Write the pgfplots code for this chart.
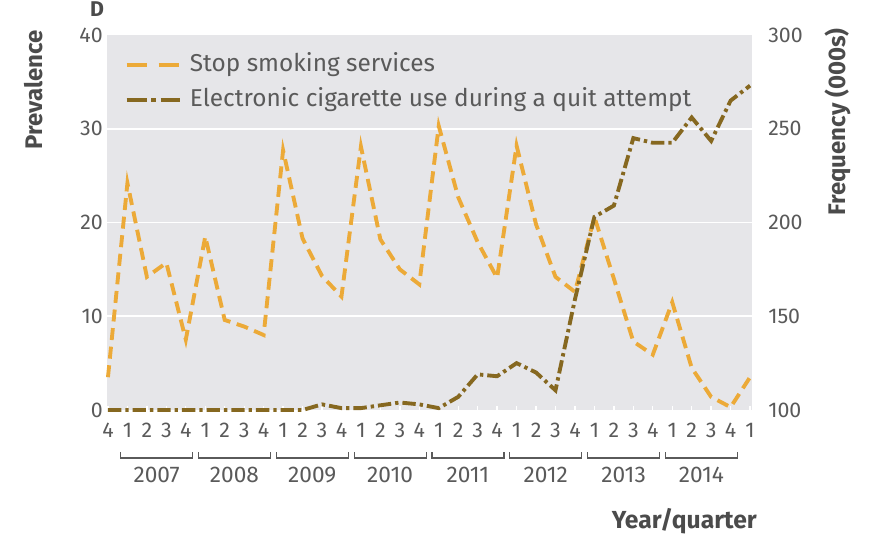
\documentclass[border=0pt]{standalone}
\usepackage{fontspec}
\setmainfont{Fira Sans}
\usepackage{pgfplots}
\usepackage{pgfplotstable}
\pgfplotsset{compat=1.18}

\definecolor{stopc}{RGB}{236,170,56}
\definecolor{ecigc}{RGB}{134,104,32}
\definecolor{bgc}{RGB}{230,230,233}
\definecolor{txtc}{RGB}{90,90,90}
\definecolor{lblc}{RGB}{75,75,75}

% Stop smoking services, frequency (000s), quarters 2006 Q4 ... 2015 Q1
\pgfplotstableread{
x stop
0 117.5
1 221
2 171
3 178.5
4 137.5
5 192.5
6 148
7 144.5
8 140
9 238.5
10 191.5
11 171.5
12 160.5
13 240.5
14 191
15 175
16 167
17 251.5
18 213.5
19 189.5
20 170.5
21 241
22 199
23 171
24 163
25 203
26 170
27 136.5
28 129.5
29 157.5
30 122.5
31 107
32 101.5
33 117.5
}\stoptable

% Electronic cigarette use during a quit attempt, prevalence (%)
\pgfplotstableread{
x ecig
0 0
1 0
2 0
3 0
4 0
5 0
6 0
7 0
8 0
9 0
10 0
11 0.6
12 0.2
13 0.2
14 0.5
15 0.8
16 0.6
17 0.2
18 1.4
19 3.8
20 3.6
21 5.0
22 4.0
23 2.1
24 11.8
25 20.6
26 21.8
27 29.0
28 28.5
29 28.5
30 31.2
31 28.7
32 33.0
33 34.6
}\ecigtable

\tikzset{
  stopstyle/.style={color=stopc, line width=2.9pt, dash pattern=on 9pt off 5pt},
  ecigstyle/.style={color=ecigc, line width=2.9pt, dash pattern=on 10pt off 3pt on 2.5pt off 3pt},
}

\begin{document}
\begin{tikzpicture}
% right axis: frequency
\begin{axis}[
  name=ax,
  scale only axis, width=483.75pt, height=281.25pt,
  xmin=-0.05, xmax=33.1, ymin=100, ymax=300,
  axis background/.style={fill=bgc},
  axis x line*=bottom, axis y line*=right,
  axis line style={draw=none},
  ytick={100,150,...,300},
  extra y ticks={150,200,250},
  extra y tick labels={},
  extra y tick style={ymajorgrids=true, major tick length=0pt},
  grid style={white, line width=1.3pt},
  xtick={0,...,33},
  xticklabels={\mbox{4},\mbox{1},\mbox{2},\mbox{3},\mbox{4},\mbox{1},\mbox{2},\mbox{3},\mbox{4},\mbox{1},\mbox{2},\mbox{3},\mbox{4},\mbox{1},\mbox{2},\mbox{3},\mbox{4},\mbox{1},\mbox{2},\mbox{3},\mbox{4},\mbox{1},\mbox{2},\mbox{3},\mbox{4},\mbox{1},\mbox{2},\mbox{3},\mbox{4},\mbox{1},\mbox{2},\mbox{3},\mbox{4},\mbox{1}},
  tick align=inside,
  x tick style={white, line width=1pt},
  major tick length=3pt,
  y tick style={draw=none},
  /pgf/number format/assume math mode=true,
  tick label style={font=\fontsize{16}{16}\selectfont, text=txtc},
  xticklabel style={anchor=center, inner sep=0pt, yshift=-15pt},
  yticklabel style={anchor=west, inner sep=0pt, xshift=12pt},
  clip=false,
]
\addplot[stopstyle] table[x=x, y=stop] {\stoptable};
\end{axis}
% left axis: prevalence
\begin{axis}[
  scale only axis, width=483.75pt, height=281.25pt,
  xmin=-0.05, xmax=33.1, ymin=0, ymax=40,
  axis y line*=left, hide x axis,
  axis line style={draw=none},
  ytick={0,10,...,40},
  y tick style={draw=none},
  /pgf/number format/assume math mode=true,
  tick label style={font=\fontsize{16}{16}\selectfont, text=txtc},
  yticklabel style={anchor=east, inner sep=0pt, xshift=-3pt},
  clip=false,
  legend style={at={(0.027,0.952)}, anchor=north west, draw=none, fill=none,
    font=\fontsize{18.3}{18.3}\selectfont, text=txtc, inner sep=0pt,
    row sep=8.25pt, column sep=6pt,
    nodes={inner sep=0pt, text height=14pt, text depth=4pt}},
  legend cell align=left,
  legend image code/.code={\draw[#1] (0pt,0pt) -- (40pt,0pt);},
]
\addlegendimage{stopstyle, dash pattern=on 15pt off 9pt}
\addlegendentry{Stop smoking services}
\addlegendimage{ecigstyle, dash pattern=on 15pt off 3.5pt on 3.5pt off 3.5pt on 16pt}
\addlegendentry{Electronic cigarette use during a quit attempt}
\addplot[ecigstyle, forget plot] table[x=x, y=ecig] {\ecigtable};
\pgfplotsinvokeforeach{0,...,7}{
  \draw[color=txtc, line width=0.9pt]
    ([yshift=-31.5pt]axis cs:{4*#1+0.65},0) -- ([yshift=-36pt]axis cs:{4*#1+0.65},0)
    -- ([yshift=-36pt]axis cs:{4*#1+4.35},0) -- ([yshift=-31.5pt]axis cs:{4*#1+4.35},0);
  \node[text=txtc, font=\fontsize{17}{17}\selectfont, inner sep=0pt, anchor=center]
    at ([yshift=-48.75pt]axis cs:{4*#1+2.5},0) {\pgfmathparse{int(2007+#1)}\pgfmathresult};
}
\end{axis}
\node[rotate=90, font=\bfseries\fontsize{18}{18}\selectfont, text=lblc, inner sep=0pt]
  at ([xshift=-55pt, yshift=240pt]ax.south west) {Prevalence};
\node[rotate=90, font=\bfseries\fontsize{18}{18}\selectfont, text=lblc, inner sep=0pt]
  at ([xshift=548.25pt, yshift=216pt]ax.south west) {Frequency (000s)};
\node[font=\bfseries\fontsize{16}{16}\selectfont, text=lblc, inner sep=0pt]
  at ([xshift=-7.5pt, yshift=300.5pt]ax.south west) {D};
\node[font=\bfseries\fontsize{18.5}{18.5}\selectfont, text=lblc, inner sep=0pt, anchor=east]
  at ([xshift=487.5pt, yshift=-83.25pt]ax.south west) {Year/quarter};
\path (ax.south west) ++(-80.25pt,-96pt) rectangle ([xshift=93pt, yshift=26.25pt]ax.north east);
\end{tikzpicture}
\end{document}
